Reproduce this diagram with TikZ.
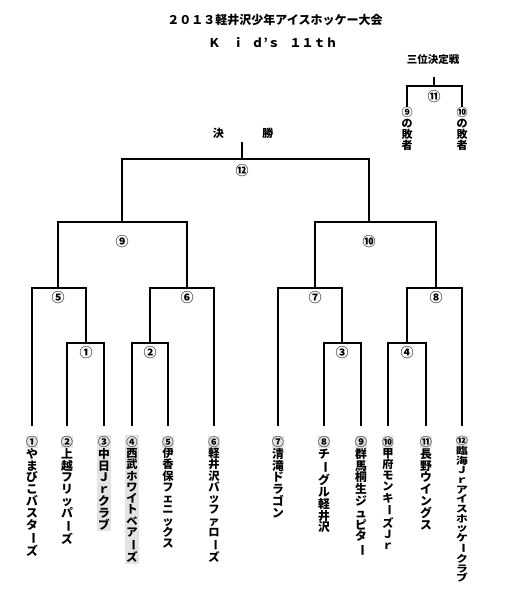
\documentclass[tikz,border=0pt]{standalone}
\usepackage{fontspec}
\setmainfont{Noto Sans CJK JP}
\usepackage{xcolor}
\usetikzlibrary{positioning}

% vertical (tategaki) stack of characters
\makeatletter
\newcommand\tate[2][11.8pt]{\vbox{\fontsize{#1}{#1}\selectfont\@tfor\tch:=#2\do{\hbox to 1.05em{\hss\tch\hss}}}}
\makeatother
\newcommand\bou{\rotatebox[origin=c]{-90}{ー}}
\newcommand\numbg[1]{{\setlength\fboxsep{0.5pt}\colorbox{gray!22}{#1}}}

\begin{document}
\begin{tikzpicture}[x=1pt,y=-1pt,line width=1.1pt,
  team/.style={anchor=north,inner sep=1pt,outer sep=9pt,font=\bfseries},
  greyteam/.style={team,fill=gray!22},
  loser/.style={anchor=north,inner sep=0.5pt,outer sep=0pt,font=\bfseries},
  game/.style={inner sep=0pt,font=\bfseries\fontsize{13}{13}\selectfont},
  head/.style={font=\bfseries\fontsize{12}{12}\selectfont}]
\useasboundingbox (0,0) rectangle (507,612);

% title
\node[head] (title) at (275,20) {２０１３軽井沢少年アイスホッケー大会};
\node[head] (sub) at (273,42) {Ｋ\hspace{1em}ｉ\hspace{.6em}ｄ’ｓ\hspace{.8em}１１ｔｈ};

% teams
\node[team] (T1) at (32,426) {\tate{{\numbg{①}}やまびこバスタ{\bou}ズ}};
\node[team] (T2) at (67,426) {\tate{{\numbg{②}}上越フリッパ{\bou}ズ}};
\node[greyteam] (T3) at (104,426) {\tate{{\numbg{③}}中日Ｊｒクラブ}};
\node[greyteam] (T4) at (132,426) {\tate[11.3pt]{{\numbg{④}}西武ホワイトベア{\bou}ズ}};
\node[team] (T5) at (168,426) {\tate[11.3pt]{{\numbg{⑤}}伊香保フェニックス}};
\node[team] (T6) at (214,426) {\tate[11.3pt]{{\numbg{⑥}}軽井沢バッファロ{\bou}ズ}};
\node[team] (T7) at (278,426) {\tate{{\numbg{⑦}}清滝ドラゴン}};
\node[team] (T8) at (324,426) {\tate{{\numbg{⑧}}チ{\bou}グル軽井沢}};
\node[team] (T9) at (361,426) {\tate{{\numbg{⑨}}群馬桐生ジュピタ{\bou}}};
\node[team] (T10) at (388,426) {\tate[11.2pt]{{\numbg{⑩}}甲府モンキ{\bou}ズＪｒ}};
\node[team] (T11) at (426,426) {\tate{{\numbg{⑪}}長野ウイングス}};
\node[team] (T12) at (462,426) {\scalebox{1}[0.82]{\tate[11.8pt]{{\numbg{⑫}}臨海Ｊｒアイスホッケ{\bou}クラブ}}};

% first round
\coordinate (J1) at (86,343);
\coordinate (J2) at (150,343);
\coordinate (J3) at (342,343);
\coordinate (J4) at (407,343);
\draw (T2.north) |- (J1) -| (T3.north);
\draw (T4.north) |- (J2) -| (T5.north);
\draw (T8.north) |- (J3) -| (T9.north);
\draw (T10.north) |- (J4) -| (T11.north);
\node[game,below=3pt of J1] (G1) {①};
\node[game,below=3pt of J2] (G2) {②};
\node[game,below=3pt of J3] (G3) {③};
\node[game,below=3pt of J4] (G4) {④};

% second round
\coordinate (J5) at (58,288);
\coordinate (J6) at (187,288);
\coordinate (J7) at (315,288);
\coordinate (J8) at (436,288);
\draw (T1.north) |- (J5) -| (J1);
\draw (J2) |- (J6) -| (T6.north);
\draw (T7.north) |- (J7) -| (J3);
\draw (J4) |- (J8) -| (T12.north);
\node[game,below=3pt of J5] (G5) {⑤};
\node[game,below=3pt of J6] (G6) {⑥};
\node[game,below=3pt of J7] (G7) {⑦};
\node[game,below=3pt of J8] (G8) {⑧};

% semifinals
\coordinate (J9) at (122,222);
\coordinate (J10) at (369,222);
\draw (J5) |- (J9) -| (J6);
\draw (J7) |- (J10) -| (J8);
\node[game,below=13pt of J9] (G9) {⑨};
\node[game,below=13pt of J10] (G10) {⑩};

% final
\coordinate (JF) at (242,159);
\coordinate (FT) at (242,142);
\draw (J9) |- (JF) -| (J10);
\draw (JF) -- (FT);
\node[game,below=5pt of JF] (G12) {⑫};
\node[font=\bfseries\fontsize{11}{11}\selectfont] (final) at (243,133) {決\hspace{3.5em}勝};

% third place
\node[font=\bfseries\fontsize{10.5}{10.5}\selectfont] (third) at (433,60) {三位決定戦};
\coordinate (JT) at (434,86);
\coordinate (TT) at (434,77);
\node[loser] (L9) at (407,107) {\tate[11pt]{⑨の敗者}};
\node[loser] (L10) at (462,107) {\tate[11pt]{⑩の敗者}};
\draw (L9.north) |- (JT) -| (L10.north);
\draw (JT) -- (TT);
\node[game,below=4pt of JT] (G11) {⑪};
\end{tikzpicture}
\end{document}
